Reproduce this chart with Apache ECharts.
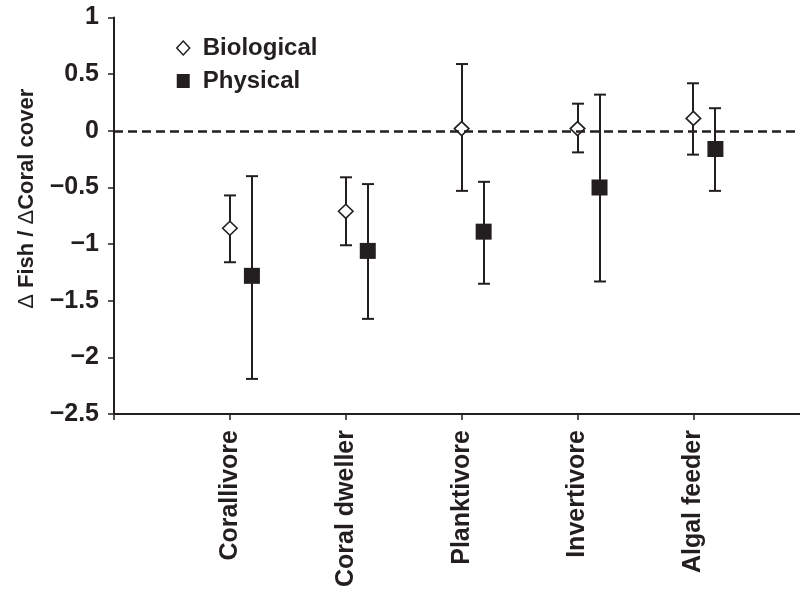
<!DOCTYPE html>
<html><head><meta charset="utf-8">
<script src="https://cdn.jsdelivr.net/npm/echarts@6/dist/echarts.min.js"></script>
<style>html,body{margin:0;padding:0;background:#fff}#c{width:800px;height:590px}</style>
</head><body><div id="c"></div>
<script>
// ---- data ----
const categories = ['Corallivore', 'Coral dweller', 'Planktivore', 'Invertivore', 'Algal feeder'];
const bioMean  = [-0.86, -0.71,  0.02,  0.02,  0.11];
const bioLow   = [-1.16, -1.01, -0.53, -0.19, -0.21];
const bioHigh  = [-0.57, -0.41,  0.59,  0.24,  0.42];
const physMean = [-1.28, -1.06, -0.89, -0.50, -0.16];
const physLow  = [-2.19, -1.66, -1.35, -1.33, -0.53];
const physHigh = [-0.40, -0.47, -0.45,  0.32,  0.20];
const yTickValues = [-2.5, -2, -1.5, -1, -0.5, 0, 0.5, 1];
const seriesNames = ['Biological', 'Physical'];

// ---- style ----
const INK = '#231f20';
const FONT = '"Liberation Sans", Arial, Helvetica, sans-serif';
const PHYS_SHIFT = 0.19;

const chart = echarts.init(document.getElementById('c'), null, {renderer: 'canvas'});

function pts(vals, shift) { return vals.map((v, i) => [i + 1 + shift, v]); }
function errData(low, high, shift) { return low.map((v, i) => [i + 1 + shift, v, high[i]]); }
function errRender(params, api) {
  const x = api.value(0), lo = api.value(1), hi = api.value(2);
  const pHi = api.coord([x, hi]), pLo = api.coord([x, lo]);
  const px = Math.round(pHi[0]);
  const cw = 6;
  const style = {stroke: INK, lineWidth: 2};
  return {type: 'group', children: [
    {type: 'line', shape: {x1: px, y1: pHi[1], x2: px, y2: pLo[1]}, style: style},
    {type: 'line', shape: {x1: px - cw, y1: pHi[1], x2: px + cw, y2: pHi[1]}, style: style},
    {type: 'line', shape: {x1: px - cw, y1: pLo[1], x2: px + cw, y2: pLo[1]}, style: style}
  ]};
}
const fmtNum = v => (v < 0 ? '\u2212' + Math.abs(v) : String(v));

chart.setOption({
  animation: false,
  backgroundColor: '#fff',
  grid: {left: 114, right: 0, top: 17.6, bottom: 172.7, containLabel: false},
  legend: {
    orient: 'vertical', left: 171, top: 31, itemWidth: 13, itemHeight: 14, itemGap: 9,
    textStyle: {fontFamily: FONT, fontSize: 24, fontWeight: 'bold', color: INK, padding: [0, 0, 0, 8]},
    data: [
      {name: seriesNames[0], icon: 'diamond', itemStyle: {color: '#fff', borderColor: INK, borderWidth: 1.5}},
      {name: seriesNames[1], icon: 'rect', itemStyle: {color: INK, borderWidth: 0}}
    ],
    selectedMode: false
  },
  xAxis: {
    type: 'value', min: 0, max: 5.92, interval: 1,
    axisLine: {show: true, onZero: false, lineStyle: {color: INK, width: 2}},
    axisTick: {show: true, inside: false, length: 6, lineStyle: {color: INK, width: 1.5}},
    splitLine: {show: false},
    axisLabel: {
      rotate: 90, margin: 16, fontFamily: FONT, fontSize: 25, fontWeight: 'bold', color: INK,
      showMaxLabel: false,
      formatter: v => (Number.isInteger(v) && v >= 1 && v <= categories.length) ? categories[v - 1] : ''
    }
  },
  yAxis: {
    type: 'value', min: yTickValues[0], max: yTickValues[yTickValues.length - 1], interval: 0.5,
    name: '{d|\u0394} Fish / {d|\u0394}Coral cover', nameLocation: 'middle', nameGap: 76,
    nameTextStyle: {fontFamily: FONT, fontSize: 22, fontWeight: 'bold', color: INK, padding: [0, 0, 0, 34],
      rich: {d: {fontFamily: FONT, fontSize: 22, fontWeight: 'normal', color: INK}}},
    axisLine: {show: true, onZero: false, lineStyle: {color: INK, width: 2}},
    axisTick: {show: true, inside: false, length: 6, lineStyle: {color: INK, width: 1.5}},
    splitLine: {show: false},
    axisLabel: {margin: 15, fontFamily: FONT, fontSize: 25, fontWeight: 'bold', color: INK, formatter: fmtNum}
  },
  series: [
    {
      type: 'line', name: 'zero', data: [], z: 1, silent: true,
      markLine: {silent: true, symbol: 'none', label: {show: false}, animation: false,
        lineStyle: {type: [9, 5], color: INK, width: 2.5}, data: [{yAxis: 0}]}
    },
    {type: 'custom', name: seriesNames[0] + ' err', renderItem: errRender, data: errData(bioLow, bioHigh, 0), z: 2, silent: true},
    {type: 'custom', name: seriesNames[1] + ' err', renderItem: errRender, data: errData(physLow, physHigh, PHYS_SHIFT), z: 2, silent: true},
    {type: 'scatter', name: seriesNames[0], data: pts(bioMean, 0), symbol: 'diamond', symbolSize: [14.5, 14], z: 3,
      itemStyle: {color: '#fff', borderColor: INK, borderWidth: 1.6, opacity: 1}},
    {type: 'scatter', name: seriesNames[1], data: pts(physMean, PHYS_SHIFT), symbol: 'rect', symbolSize: 16, z: 3,
      itemStyle: {color: INK, opacity: 1}}
  ]
});
</script>
</body></html>
